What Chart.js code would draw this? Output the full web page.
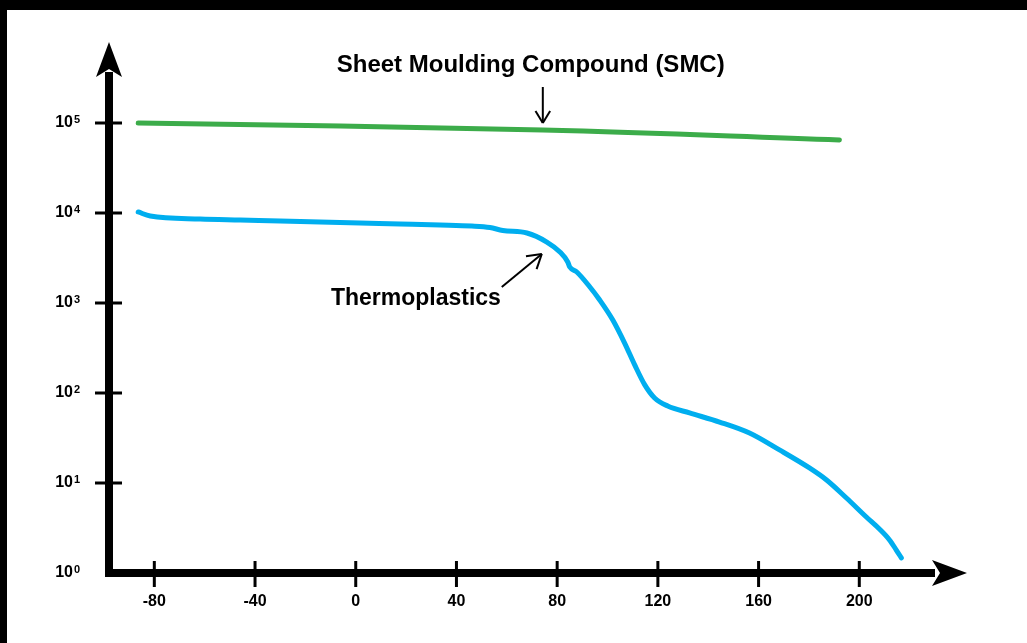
<!DOCTYPE html>
<html>
<head>
<meta charset="utf-8">
<script src="https://cdn.jsdelivr.net/npm/chart.js@4.4.1/dist/chart.umd.min.js"></script>
<style>
  html, body { margin: 0; padding: 0; background: #fff; }
  #wrap { position: relative; width: 1027px; height: 643px; overflow: hidden; }
  #frameTop { position: absolute; left: 0; top: 0; width: 1027px; height: 10px; background: #000; }
  #frameLeft { position: absolute; left: 0; top: 0; width: 7px; height: 643px; background: #000; }
</style>
</head>
<body>
<div id="wrap">
  <canvas id="chart" width="1027" height="643"></canvas>
  <div id="frameTop"></div>
  <div id="frameLeft"></div>
</div>
<script>
// temperature (°C) and modulus
const smcTemp = [-86.4, 74.3, 192.1];
const smcModulus = [100000, 83600, 64700];

const thermoTemp = [-86.4, -81.6, -61.8, -45.9, -30.0, -14.2, 1.7, 17.6, 33.5, 46.1, 53.3,
  58.4, 68.0, 75.9, 81.1, 84.2, 85.0, 87.8, 93.0, 96.9, 102.1, 106.8, 110.8, 114.8, 118.7,
  123.9, 132.6, 144.5, 156.4, 168.3, 180.2, 187.0, 194.9, 202.8, 208.0, 212.0, 214.7, 216.7];
const thermoModulus = [10260, 9260, 8580, 8360, 8150, 7940, 7740, 7550, 7360, 7170, 6900,
  6400, 6000, 4760, 3690, 2855, 2510, 2210, 1506, 1080, 647, 359, 205, 123, 88,
  71.7, 60, 47.6, 35.9, 23.3, 14.7, 10.8, 6.81, 4.19, 3.08, 2.33, 1.80, 1.47];

const xTickValues = [-80, -40, 0, 40, 80, 120, 160, 200];
const yTickValues = [1, 10, 100, 1000, 10000, 100000];
const yTickBase = '10';
const yTickExponents = ['0', '1', '2', '3', '4', '5'];

const smcLabel = 'Sheet Moulding Compound (SMC)';
const thermoLabel = 'Thermoplastics';

const fontFamily = '"Liberation Sans", Arial, sans-serif';

function toPoints(xs, ys) {
    return xs.map((x, i) => ({ x: x, y: ys[i] }));
}

function line(ctx, x1, y1, x2, y2) {
    ctx.beginPath();
    ctx.moveTo(x1, y1);
    ctx.lineTo(x2, y2);
    ctx.stroke();
}

// open "V" arrowhead at (x2,y2)
function thinArrow(ctx, x1, y1, x2, y2, size) {
    line(ctx, x1, y1, x2, y2);
    const a = Math.atan2(y2 - y1, x2 - x1);
    const spread = 0.55;
    line(ctx, x2, y2, x2 - size * Math.cos(a - spread), y2 - size * Math.sin(a - spread));
    line(ctx, x2, y2, x2 - size * Math.cos(a + spread), y2 - size * Math.sin(a + spread));
}

const axesPlugin = {
    id: 'axesPlugin',
    afterDraw(chart) {
        const ctx = chart.ctx;
        const xs = chart.scales.x, ys = chart.scales.y;
        const x0 = xs.left, y0 = ys.bottom;
        ctx.save();
        ctx.strokeStyle = '#000';
        ctx.fillStyle = '#000';

        // tick marks crossing the axes
        ctx.lineWidth = 3;
        yTickValues.forEach(v => {
            if (v === ys.min) return;
            const py = ys.getPixelForValue(v);
            line(ctx, x0 - 14, py, x0 + 13, py);
        });
        xTickValues.forEach(v => {
            const px = xs.getPixelForValue(v);
            line(ctx, px, y0 - 12, px, y0 + 14);
        });

        // exponents of the y tick labels
        ctx.font = 'bold 11px ' + fontFamily;
        ctx.textAlign = 'left';
        ctx.textBaseline = 'alphabetic';
        yTickValues.forEach((v, i) => {
            const py = ys.getPixelForValue(v);
            ctx.fillText(yTickExponents[i], x0 - 35, py);
        });

        // axis shafts
        ctx.lineWidth = 8;
        line(ctx, x0, y0 + 4, x0, ys.top + 30);
        line(ctx, x0 - 4, y0, xs.right - 25, y0);

        // arrowheads
        const tipY = ys.top;
        ctx.beginPath();
        ctx.moveTo(x0, tipY);
        ctx.lineTo(x0 + 13, tipY + 35);
        ctx.lineTo(x0, tipY + 27);
        ctx.lineTo(x0 - 13, tipY + 35);
        ctx.closePath();
        ctx.fill();

        const tipX = xs.right + 7;
        ctx.beginPath();
        ctx.moveTo(tipX, y0);
        ctx.lineTo(tipX - 35, y0 - 13);
        ctx.lineTo(tipX - 27, y0);
        ctx.lineTo(tipX - 35, y0 + 13);
        ctx.closePath();
        ctx.fill();

        // annotations
        ctx.textAlign = 'center';
        ctx.textBaseline = 'middle';
        ctx.font = 'bold 24px ' + fontFamily;
        ctx.fillText(smcLabel, xs.getPixelForValue(69.5), ys.getPixelForValue(Math.pow(10, 5.644)));
        ctx.font = 'bold 23px ' + fontFamily;
        ctx.fillText(thermoLabel, xs.getPixelForValue(23.9), ys.getPixelForValue(Math.pow(10, 3.044)));

        ctx.lineWidth = 2;
        thinArrow(ctx,
            xs.getPixelForValue(74.3), ys.getPixelForValue(Math.pow(10, 5.4)),
            xs.getPixelForValue(74.3), ys.getPixelForValue(Math.pow(10, 5.0)), 14);
        thinArrow(ctx,
            xs.getPixelForValue(58.0), ys.getPixelForValue(Math.pow(10, 3.178)),
            xs.getPixelForValue(73.9), ys.getPixelForValue(Math.pow(10, 3.544)), 16);
        ctx.restore();
    }
};

const ctx = document.getElementById('chart').getContext('2d');
new Chart(ctx, {
    type: 'line',
    data: {
        datasets: [{
            label: 'SMC',
            data: toPoints(smcTemp, smcModulus),
            borderColor: '#3cac4a',
            borderWidth: 5,
            pointRadius: 0,
            tension: 0.4,
            borderCapStyle: 'round'
        }, {
            label: 'Thermoplastics',
            data: toPoints(thermoTemp, thermoModulus),
            borderColor: '#00aeef',
            borderWidth: 5,
            pointRadius: 0,
            cubicInterpolationMode: 'monotone',
            borderCapStyle: 'round',
            borderJoinStyle: 'round'
        }]
    },
    options: {
        responsive: false,
        animation: false,
        devicePixelRatio: 1,
        layout: { padding: { top: 42, right: 67, bottom: 0, left: 0 } },
        plugins: {
            legend: { display: false },
            tooltip: { enabled: false }
        },
        scales: {
            x: {
                type: 'linear',
                min: -98,
                max: 240,
                grid: { display: false, drawTicks: false },
                border: { display: false },
                afterBuildTicks: s => { s.ticks = xTickValues.map(v => ({ value: v })); },
                afterFit: s => { s.height = 70; s.paddingLeft = 0; s.paddingRight = 0; },
                ticks: {
                    autoSkip: false,
                    maxRotation: 0,
                    padding: 19,
                    color: '#000',
                    font: { family: fontFamily, size: 16, weight: 'bold' }
                }
            },
            y: {
                type: 'logarithmic',
                min: 1,
                max: Math.pow(10, 5.9),
                grid: { display: false, drawTicks: false },
                border: { display: false },
                afterBuildTicks: s => { s.ticks = yTickValues.map(v => ({ value: v })); },
                afterFit: s => { s.width = 109; s.paddingTop = 0; s.paddingBottom = 0; },
                ticks: {
                    autoSkip: false,
                    padding: 36,
                    color: '#000',
                    font: { family: fontFamily, size: 16, weight: 'bold' },
                    callback: () => yTickBase
                }
            }
        }
    },
    plugins: [axesPlugin]
});
</script>
</body>
</html>
